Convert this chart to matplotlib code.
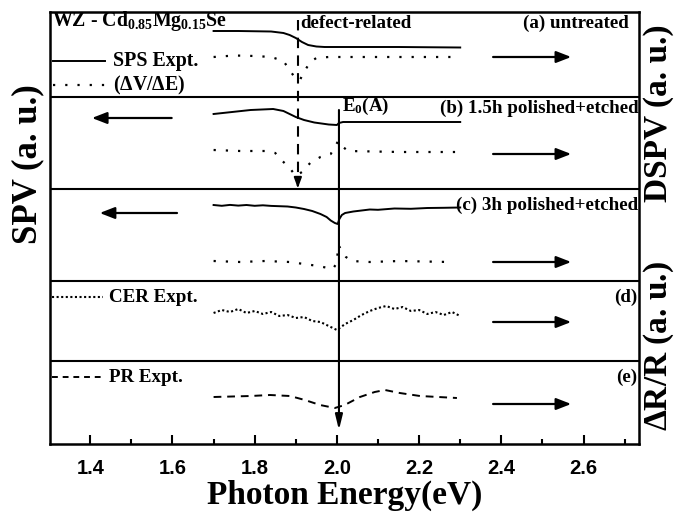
import matplotlib
matplotlib.use("Agg")
import matplotlib.pyplot as plt
from matplotlib.ticker import MultipleLocator

plt.rcParams['font.family'] = ['Liberation Serif', 'DejaVu Serif']
plt.rcParams['font.weight'] = 'bold'
plt.rcParams['axes.labelweight'] = 'bold'
plt.rcParams['mathtext.fontset'] = 'custom'
plt.rcParams['mathtext.rm'] = 'Liberation Serif:bold'
plt.rcParams['mathtext.it'] = 'Liberation Serif:bold'
plt.rcParams['mathtext.bf'] = 'Liberation Serif:bold'

# ---- data (photon energy in eV, signal in stacked arbitrary units; larger = lower on chart) ----
a_E   = [1.70, 1.76, 1.84, 1.87, 1.885, 1.90, 1.915, 1.93, 1.95, 1.97, 2.05, 2.15, 2.30]
a_spv = [31, 31, 31.5, 33, 35, 38, 42, 45, 46.5, 47, 47, 47, 47.5]
a_dE   = [1.70, 1.75, 1.80, 1.84, 1.87, 1.885, 1.90, 1.91, 1.92, 1.935, 1.95, 1.98, 2.10, 2.20, 2.30]
a_dspv = [57, 55.5, 56, 57, 61, 70, 79, 80, 72, 62, 58, 57, 57, 57, 57]

b_E   = [1.70, 1.79, 1.845, 1.87, 1.885, 1.90, 1.92, 1.945, 1.98, 2.00, 2.005, 2.015, 2.15, 2.30]
b_spv = [114, 110, 109, 111, 114, 117, 120, 122.5, 124.5, 125, 123, 122, 122, 122]
b_dE   = [1.70, 1.765, 1.825, 1.85, 1.865, 1.885, 1.90, 1.915, 1.935, 1.96, 1.985, 1.995, 2.003, 2.012, 2.027, 2.155, 2.29]
b_dspv = [150, 151, 151, 153, 160, 168, 176, 172, 163, 157, 154, 147, 141, 146, 151, 152, 152]

c_E   = [1.70, 1.72, 1.74, 1.76, 1.78, 1.80, 1.82, 1.84, 1.86, 1.88, 1.90, 1.92, 1.94, 1.96, 1.975,
         1.985, 1.995, 2.002, 2.006, 2.012, 2.02, 2.04, 2.06, 2.08, 2.10, 2.14, 2.18, 2.22, 2.26, 2.30]
c_spv = [205, 205.8, 204.9, 205.6, 205.0, 205.8, 205.3, 205.9, 206.2, 206.5, 207.5, 209, 211, 214, 217,
         220.5, 223, 224, 219, 215, 213, 211.5, 210.5, 209.5, 209.8, 208.5, 208.8, 208, 207.8, 207.5]
c_dE   = [1.70, 1.765, 1.825, 1.885, 1.92, 1.955, 1.978, 1.99, 2.0, 2.003, 2.010, 2.022, 2.036, 2.08, 2.153, 2.275]
c_dspv = [261, 262, 261, 262, 264, 266, 268, 269, 263, 245, 249, 257, 261, 262, 261, 262]

d_E   = [1.70, 1.72, 1.74, 1.76, 1.78, 1.80, 1.82, 1.84, 1.86, 1.88, 1.90, 1.92, 1.94, 1.96, 1.98, 2.00,
         2.02, 2.04, 2.06, 2.08, 2.10, 2.12, 2.14, 2.16, 2.18, 2.20, 2.22, 2.24, 2.26, 2.28, 2.30]
d_cer = [313, 310, 312, 309, 313, 311, 314, 312, 316, 315, 318, 317, 321, 322, 326, 330,
         324, 320, 315, 311, 308, 306, 309, 307, 311, 310, 314, 312, 315, 312, 316]

e_E  = [1.70, 1.79, 1.837, 1.886, 1.922, 1.959, 1.995, 2.019, 2.056, 2.092, 2.117, 2.153, 2.202, 2.292]
e_pr = [397, 396, 395, 396, 400, 405, 408, 405, 397, 392, 390, 393, 396, 398]

dividers = [97, 189, 281, 361]
E_defect = 1.905
E_0 = 2.005
xticks = [1.4, 1.6, 1.8, 2.0, 2.2, 2.4, 2.6]

fig = plt.figure(figsize=(6.8, 5.18), dpi=100)
ax = fig.add_axes([50/680, 74/518, 589/680, 432/518])
ax.set_xlim(1.302, 2.735)
ax.set_ylim(444, 12)

lw = 1.4
ax.plot(a_E, a_spv, color='k', lw=lw)
ax.plot(a_dE, a_dspv, color='k', lw=1.6, linestyle=(0, (1, 4.5)))
ax.plot(b_E, b_spv, color='k', lw=lw)
ax.plot(b_dE, b_dspv, color='k', lw=1.6, linestyle=(0, (1, 4.5)))
ax.plot(c_E, c_spv, color='k', lw=lw)
ax.plot(c_dE, c_dspv, color='k', lw=1.6, linestyle=(0, (1, 4.5)))
ax.plot(d_E, d_cer, color='k', lw=1.5, linestyle=(0, (1, 1.2)))
ax.plot(e_E, e_pr, color='k', lw=1.4, linestyle=(0, (4, 3)))

for yv in dividers:
    ax.axhline(yv, color='k', lw=1.5)

# defect-related dashed marker
ax.plot([E_defect, E_defect], [20, 182], color='k', lw=1.5, linestyle=(0, (5, 3.5)))
ax.annotate('', xy=(E_defect, 191), xytext=(E_defect, 180),
            arrowprops=dict(arrowstyle='-|>,head_length=0.6,head_width=0.22', color='k', lw=1.5))
# E0(A) solid marker
ax.annotate('', xy=(E_0, 430), xytext=(E_0, 110),
            arrowprops=dict(arrowstyle='-|>,head_length=0.9,head_width=0.22', color='k', lw=1.5,
                            shrinkA=0, shrinkB=0))

# direction arrows
arr = dict(arrowstyle='-|>,head_length=0.9,head_width=0.35', color='k', lw=1.6, shrinkA=0, shrinkB=0)
for yv in [57, 154, 262, 322, 404]:
    ax.annotate('', xy=(2.57, yv), xytext=(2.38, yv), arrowprops=arr)
ax.annotate('', xy=(1.404, 118), xytext=(1.598, 118), arrowprops=arr)
ax.annotate('', xy=(1.423, 213), xytext=(1.611, 213), arrowprops=arr)

# legend-like texts
fs = 13.7
ax.text(1.307, 21, r'WZ - Cd$_{0.85}$Mg$_{0.15}$Se', fontsize=14.3, va='center', ha='left')
ax.plot([1.31, 1.435], [61, 61], color='k', lw=1.4)
ax.text(1.455, 61, 'SPS Expt.', fontsize=14.3, va='center', ha='left')
ax.plot([1.31, 1.435], [85, 85], color='k', lw=1.6, linestyle=(0, (1, 4.5)))
ax.text(1.455, 85, r'($\Delta$V/$\Delta$E)', fontsize=14.3, va='center', ha='left')
ax.plot([1.307, 1.43], [297, 297], color='k', lw=1.5, linestyle=(0, (1, 1.2)))
ax.text(1.445, 297, 'CER Expt.', fontsize=fs, va='center', ha='left')
ax.plot([1.307, 1.43], [377, 377], color='k', lw=1.4, linestyle=(0, (3, 2.5)))
ax.text(1.445, 377, 'PR Expt.', fontsize=fs, va='center', ha='left')

ax.text(1.912, 24, 'defect-related', fontsize=fs, va='center', ha='left')
ax.text(2.012, 106, r'E$_0$(A)', fontsize=fs, va='center', ha='left')

ax.text(2.71, 23, '(a) untreated', fontsize=fs, va='center', ha='right')
ax.text(2.733, 108, '(b) 1.5h polished+etched', fontsize=fs, va='center', ha='right')
ax.text(2.733, 205, '(c) 3h polished+etched', fontsize=fs, va='center', ha='right')
ax.text(2.73, 297, '(d)', fontsize=fs, va='center', ha='right')
ax.text(2.73, 377, '(e)', fontsize=fs, va='center', ha='right')

# axes styling
for sp in ax.spines.values():
    sp.set_linewidth(1.8)
ax.set_xticks(xticks)
ax.xaxis.set_minor_locator(MultipleLocator(0.1))
ax.tick_params(axis='x', which='major', direction='in', length=6.5, width=1.5, pad=11)
ax.tick_params(axis='x', which='minor', direction='in', length=3.5, width=1.5)
ax.set_yticks([])
ax.set_xticklabels([f'{t:.1f}' for t in xticks], fontfamily='Liberation Sans', fontweight='bold', fontsize=14.5)
ax.set_xlabel('Photon Energy(eV)', fontsize=24, labelpad=1)

fig.text(28/680, 1 - 164/518, 'SPV (a. u.)', rotation=90, fontsize=25, ha='center', va='center')
fig.text(659/680, 1 - 113/518, 'DSPV (a. u.)', rotation=90, fontsize=24, ha='center', va='center')
fig.text(659/680, 1 - 346/518, r'$\Delta$R/R (a. u.)', rotation=90, fontsize=24, ha='center', va='center')

fig.savefig('out.png', dpi=100)
